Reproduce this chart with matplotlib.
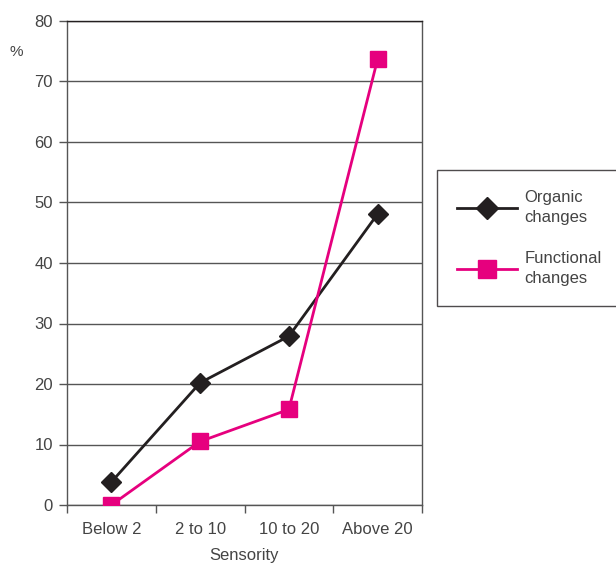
import matplotlib.pyplot as plt
from matplotlib import font_manager

categories = ["Below 2", "2 to 10", "10 to 20", "Above 20"]
organic = [3.8, 20.2, 27.9, 48.1]
functional = [0.0, 10.5, 15.8, 73.7]
yticks = [0, 10, 20, 30, 40, 50, 60, 70, 80]

names = {f.name for f in font_manager.fontManager.ttflist}
if "Liberation Sans Narrow" in names:
    plt.rcParams["font.family"] = ["Liberation Sans Narrow", "DejaVu Sans"]
else:
    plt.rcParams["font.family"] = ["Liberation Sans", "DejaVu Sans"]

text_col = "#444444"
black = "#231f20"
pink = "#e6007e"

fig = plt.figure(figsize=(6.16, 5.65), dpi=100)
ax = fig.add_axes([67 / 616, 1 - 505 / 565, 355 / 616, 484 / 565])

x = [i + 0.5 for i in range(len(categories))]
ax.plot(x, organic, color=black, lw=2, marker="D", ms=10, zorder=3,
        label="Organic\nchanges")
ax.plot(x, functional, color=pink, lw=2, marker="s", ms=12, zorder=4,
        label="Functional\nchanges")

ax.set_xlim(0, len(categories))
ax.set_ylim(0, 80)
ax.set_yticks(yticks)
ax.set_xticks(range(len(categories) + 1))
ax.set_xticklabels([])
ax.set_xticks(x, minor=True)
ax.set_xticklabels(categories, minor=True)
ax.tick_params(axis="x", which="minor", length=0, pad=12)
ax.tick_params(axis="x", which="major", length=6, width=1, color="#555555")
ax.tick_params(axis="y", length=6, width=1, color="#555555", pad=4)
ax.tick_params(which="both", labelsize=12, labelcolor=text_col)

ax.grid(axis="y", color="#555555", lw=1)
ax.set_axisbelow(True)
for side in ["left", "right", "bottom", "top"]:
    ax.spines[side].set_color("#555555")
    ax.spines[side].set_linewidth(1)
ax.spines["top"].set_color(black)

ax.set_xlabel("Sensority", fontsize=12, color=text_col, labelpad=8)
fig.text(16 / 616, 1 - 52 / 565, "%", fontsize=11, color=text_col,
         ha="center", va="center")

leg = fig.legend(loc="upper left", bbox_to_anchor=(437 / 616, 1 - 170 / 565),
                 fontsize=12, frameon=True, fancybox=False, handlelength=3.6,
                 borderpad=1.2, labelspacing=1.6, handletextpad=0.45,
                 borderaxespad=0, markerscale=1.1)
leg.get_frame().set_edgecolor(black)
leg.get_frame().set_linewidth(1)
for t in leg.get_texts():
    t.set_color(text_col)
    t.set_linespacing(1.4)

fig.savefig("out.png", dpi=100)
